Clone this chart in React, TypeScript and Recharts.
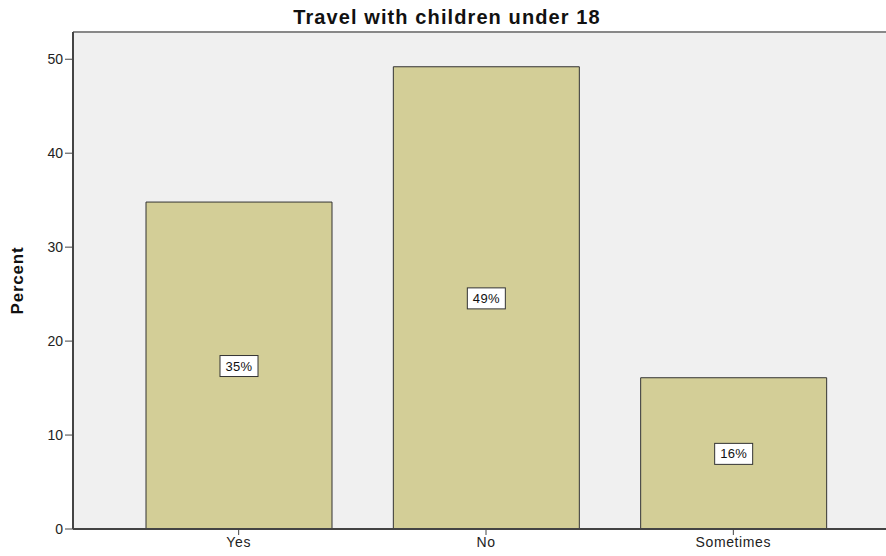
import { BarChart, Bar, XAxis, YAxis, CartesianGrid, ReferenceLine, LabelList } from "recharts";

const categories = ["Yes", "No", "Sometimes"];
const percents = [34.8, 49.2, 16.1];
const yTicks = [0, 10, 20, 30, 40, 50];

const data = categories.map((name, i) => ({ name, value: percents[i] }));

const FONT = "'Liberation Sans', Arial, sans-serif";

const PercentLabel = (props: any) => {
  const { x, y, width, height, value } = props;
  const cx = x + width / 2;
  const cy = y + height / 2;
  const text = `${Math.round(value)}%`;
  return (
    <g>
      <rect x={cx - 19} y={cy - 10} width={38} height={21} fill="#fff" stroke="#333" strokeWidth={1} />
      <text x={cx} y={cy + 5} textAnchor="middle" fontSize={13} fontFamily={FONT} fill="#111" letterSpacing={0.3}>
        {text}
      </text>
    </g>
  );
};

const App = () => {
  return (
    <div
      style={{
        position: "absolute",
        left: 0,
        top: 0,
        width: 886,
        height: 556,
        overflow: "hidden",
        background: "#fff",
        fontFamily: FONT,
      }}
    >
      <div
        style={{
          position: "absolute",
          left: 0,
          width: 894,
          top: 6,
          textAlign: "center",
          fontSize: 20,
          letterSpacing: 1.1,
          fontWeight: "bold",
          color: "#111",
        }}
      >
        Travel with children under 18
      </div>
      <BarChart
        width={900}
        height={556}
        data={data}
        margin={{ top: 32, right: 1, bottom: 0, left: 0 }}
        barSize={186}
      >
        <CartesianGrid fill="#F0F0F0" horizontal={false} vertical={false} />
        <XAxis
          dataKey="name"
          height={27}
          padding={{ left: 42, right: 42 }}
          axisLine={{ stroke: "#444", strokeWidth: 2 }}
          tickLine={{ stroke: "#444" }}
          tickSize={6}
          tick={{ fill: "#222", fontSize: 14, fontFamily: FONT, letterSpacing: 0.6 }}
        />
        <YAxis
          width={73}
          domain={[0, 52.9]}
          ticks={yTicks}
          allowDataOverflow
          axisLine={{ stroke: "#444", strokeWidth: 2 }}
          tickLine={{ stroke: "#444" }}
          tickSize={8}
          tick={{ fill: "#222", fontSize: 14, fontFamily: FONT }}
          label={{
            value: "Percent",
            angle: -90,
            position: "insideLeft",
            offset: 17,
            style: { fontSize: 17, fontWeight: "bold", fill: "#111", fontFamily: FONT, textAnchor: "middle", letterSpacing: 0.8 },
          }}
        />
        <ReferenceLine y={52.9} stroke="#888" strokeWidth={2} />
        <Bar dataKey="value" fill="#D3CE97" stroke="#333" strokeWidth={1} isAnimationActive={false}>
          <LabelList dataKey="value" content={PercentLabel} />
        </Bar>
      </BarChart>
    </div>
  );
};

export default App;
